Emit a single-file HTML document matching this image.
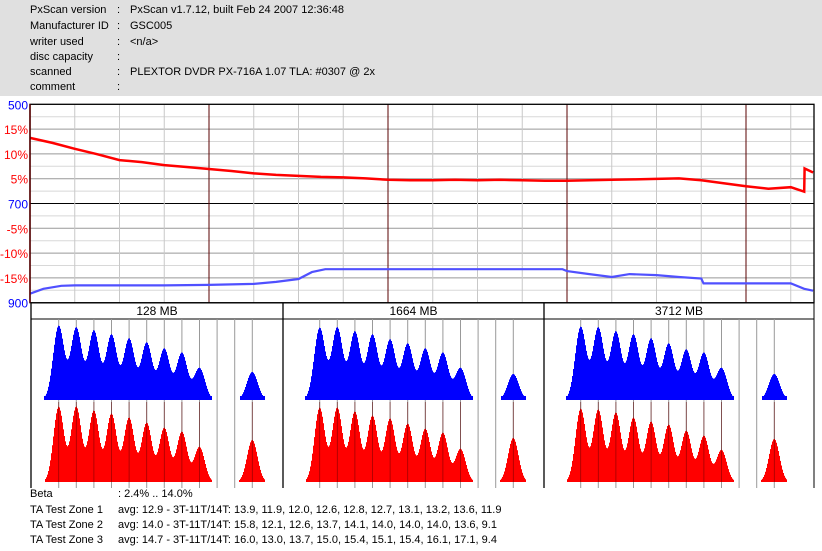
<!DOCTYPE html>
<html><head><meta charset="utf-8"><style>
html,body{margin:0;padding:0;background:#fff;width:822px;height:551px;overflow:hidden}
svg{display:block;font-family:"Liberation Sans",sans-serif}
</style></head><body>
<svg id="c" width="822" height="551" xmlns="http://www.w3.org/2000/svg">
<rect x="0" y="0" width="822" height="96" fill="#e0e0e0"/>
<g font-size="11" fill="#000">
<text x="30" y="13">PxScan version</text><text x="117" y="13">:</text><text x="130" y="13">PxScan v1.7.12, built Feb 24 2007 12:36:48</text>
<text x="30" y="29">Manufacturer ID</text><text x="117" y="29">:</text><text x="130" y="29">GSC005</text>
<text x="30" y="45">writer used</text><text x="117" y="45">:</text><text x="130" y="45">&lt;n/a&gt;</text>
<text x="30" y="60">disc capacity</text><text x="117" y="60">:</text>
<text x="30" y="75">scanned</text><text x="117" y="75">:</text><text x="130" y="75">PLEXTOR DVDR PX-716A 1.07 TLA: #0307 @ 2x</text>
<text x="30" y="90">comment</text><text x="117" y="90">:</text>
</g>
<g id="topchart"></g>
<g id="hist"></g>
<g font-size="11" fill="#000">
<text x="30" y="497">Beta</text><text x="118" y="497">: 2.4% .. 14.0%</text>
<text x="30" y="513">TA Test Zone 1</text><text x="118" y="513">avg: 12.9 - 3T-11T/14T: 13.9, 11.9, 12.0, 12.6, 12.8, 12.7, 13.1, 13.2, 13.6, 11.9</text>
<text x="30" y="528">TA Test Zone 2</text><text x="118" y="528">avg: 14.0 - 3T-11T/14T: 15.8, 12.1, 12.6, 13.7, 14.1, 14.0, 14.0, 14.0, 13.6, 9.1</text>
<text x="30" y="543">TA Test Zone 3</text><text x="118" y="543">avg: 14.7 - 3T-11T/14T: 16.0, 13.0, 13.7, 15.0, 15.4, 15.1, 15.4, 16.1, 17.1, 9.4</text>
</g>
</svg>
<script>
// ---- data ----
const betaPos = [0,0.5,1,1.5,2,2.5,3,3.5,4,4.5,5,5.5,6,6.5,7,7.5,8,8.5,9,9.5,10,10.5,11,11.5,12,12.5,13,13.5,14,14.5,15,15.5,16,16.5,17,17.3,17.31,17.5];
const betaVal = [13.5,12.5,11.3,10.2,9.0,8.6,8.0,7.6,7.2,6.8,6.3,6.0,5.8,5.6,5.5,5.3,5.0,4.9,4.9,5.0,4.9,5.0,4.9,4.8,4.8,4.9,5.0,5.1,5.2,5.3,4.9,4.3,3.7,3.2,3.5,2.6,7.3,6.5];
const jitPos = [0,0.3,0.7,1,2,3,4,5,5.5,6,6.3,6.6,8,10,11.9,12.0,12.5,13,13.4,14,14.5,15,15.05,17,17.3,17.5];
const jitVal = [882,872,866,865,865,865,864,862,858,852,838,832,832,832,832,836,842,848,842,844,848,851,861,861,872,876];
const leftTicks = ["500","15%","10%","5%","700","-5%","-10%","-15%","900"];
const leftTickColors = ["blue","red","red","red","blue","red","red","red","blue"];
const zoneLabels = ["128 MB","1664 MB","3712 MB"];
const blueHeights = [
 [74,72,69,65,61,57,51,47,32,28],
 [72,72,68,65,60,56,51,47,32,26],
 [73,72,68,65,61,56,50,47,32,26]];
const redHeights = [
 [75,75,71,68,64,59,54,50,35,42],
 [74,74,70,66,63,58,53,49,33,44],
 [73,72,69,64,60,57,51,46,32,43]];
const tLengths = [3,4,5,6,7,8,9,10,11,14];

// ---- layout ----
const NS="http://www.w3.org/2000/svg";
const X0=30,X1=814,Y0=104.3,Y1=302.7,STEP=44.75;
const xs=u=>X0+u*STEP;
const yBeta=v=>204.5-v*4.93;
const yJit=v=>204.5+(v-700)*0.49;
function mk(tag,attrs,parent){const e=document.createElementNS(NS,tag);for(const k in attrs)e.setAttribute(k,attrs[k]);parent.appendChild(e);return e;}
const topG=document.getElementById('topchart');
mk('rect',{x:X0,y:Y0,width:X1-X0,height:Y1-Y0,fill:'#fff'},topG);
for(let i=1;i<16;i++){const y=Y0+i*(Y1-Y0)/16;
 const l=mk('line',{x1:X0,x2:X1,y1:y,y2:y,stroke:i==8?'#000':(i%2==0?'#999':'#d8d8d8'),'stroke-width':1},topG);
 
 }
for(let i=1;i<=17;i++){const x=xs(i);
 const l=mk('line',{x1:x,x2:x,y1:Y0,y2:Y1,stroke:i%4==0?'#5a0000':'#c8c8c8','stroke-width':1},topG);
 
 }
leftTicks.forEach((t,i)=>{const y=Y0+i*(Y1-Y0)/8;
 const e=mk('text',{x:28,y:y+5,'text-anchor':'end','font-size':12,fill:leftTickColors[i]},topG);e.textContent=t;
 
 });
const bp=mk('polyline',{points:betaPos.map((p,i)=>xs(p).toFixed(1)+','+yBeta(betaVal[i]).toFixed(1)).join(' '),fill:'none',stroke:'#f00','stroke-width':2.5},topG);


const jp=mk('polyline',{points:jitPos.map((p,i)=>xs(p).toFixed(1)+','+yJit(jitVal[i]).toFixed(1)).join(' '),fill:'none',stroke:'#5050ff','stroke-width':2.2},topG);


mk('rect',{x:X0,y:Y0,width:X1-X0,height:Y1-Y0,fill:'none',stroke:'#000','stroke-width':1.3},topG);
mk('line',{x1:X0,x2:X0,y1:Y0,y2:Y1,stroke:'#5a0000','stroke-width':1.5},topG);

// ---- histograms ----
const hist=document.getElementById('hist');
const panels=[[31,283,58.7],[283,544,319.7],[544,814,580.7]];
const TSTEP=17.6, BLUEBASE=400, REDBASE=482, HY0=303, HY1=319, HB=488;
const tx=(p,t)=>panels[p][2]+(t-3)*TSTEP;
panels.forEach((pn,p)=>{
 const g=mk('g',{},hist);
 
 
 mk('rect',{x:pn[0],y:HY0,width:pn[1]-pn[0],height:HY1-HY0,fill:'#fff',stroke:'#000','stroke-width':1},g);
 const lab=mk('text',{x:(pn[0]+pn[1])/2,y:HY1-4,'text-anchor':'middle','font-size':12},g);lab.textContent=zoneLabels[p];
 
 
 mk('line',{x1:pn[0],x2:pn[0],y1:HY0,y2:HB,stroke:'#000','stroke-width':1.3},g);
 tLengths.forEach(t=>{const x=tx(p,t);
  const l=mk('line',{x1:x,x2:x,y1:HY1,y2:HB,stroke:'#999','stroke-width':1},g);
  
  });
 [12,13].forEach(t=>{const x=tx(p,t);mk('line',{x1:x,x2:x,y1:HY1,y2:HB,stroke:'#999','stroke-width':1},g);});
 function dens(h,x,s){let v=0;tLengths.forEach((t,i)=>{const d=x-tx(p,t);v+=h[i]*Math.exp(-d*d/(2*s*s));});return v;}
 let bd='',rd='';
 for(let x=Math.floor(pn[0])+1;x<pn[1]-1;x++){
  let b=dens(blueHeights[p],x+0.5,5.5);
  if(b>2){const bh=Math.min(Math.max(b,4),90);bd+=`M${x},${BLUEBASE}v${-bh.toFixed(1)}h1v${bh.toFixed(1)}z`;}
  const r=dens(redHeights[p],x+0.5,5.2);
  if(r>2){const rh=Math.min(r,90);rd+=`M${x},${REDBASE}v${-rh.toFixed(1)}h1v${rh.toFixed(1)}z`;}
 }
 const bpth=mk('path',{d:bd,fill:'#0000ff'},g);
 
 
 const rpth=mk('path',{d:rd,fill:'#ff0000'},g);
 
 
 tLengths.forEach(t=>{const x=tx(p,t);mk('line',{x1:x,x2:x,y1:REDBASE-80,y2:REDBASE,stroke:'#600','stroke-width':0.8,opacity:0.6},g);});
});
mk('line',{x1:814,x2:814,y1:HY0,y2:HB,stroke:'#000','stroke-width':1},hist);
</script>
</body></html>
